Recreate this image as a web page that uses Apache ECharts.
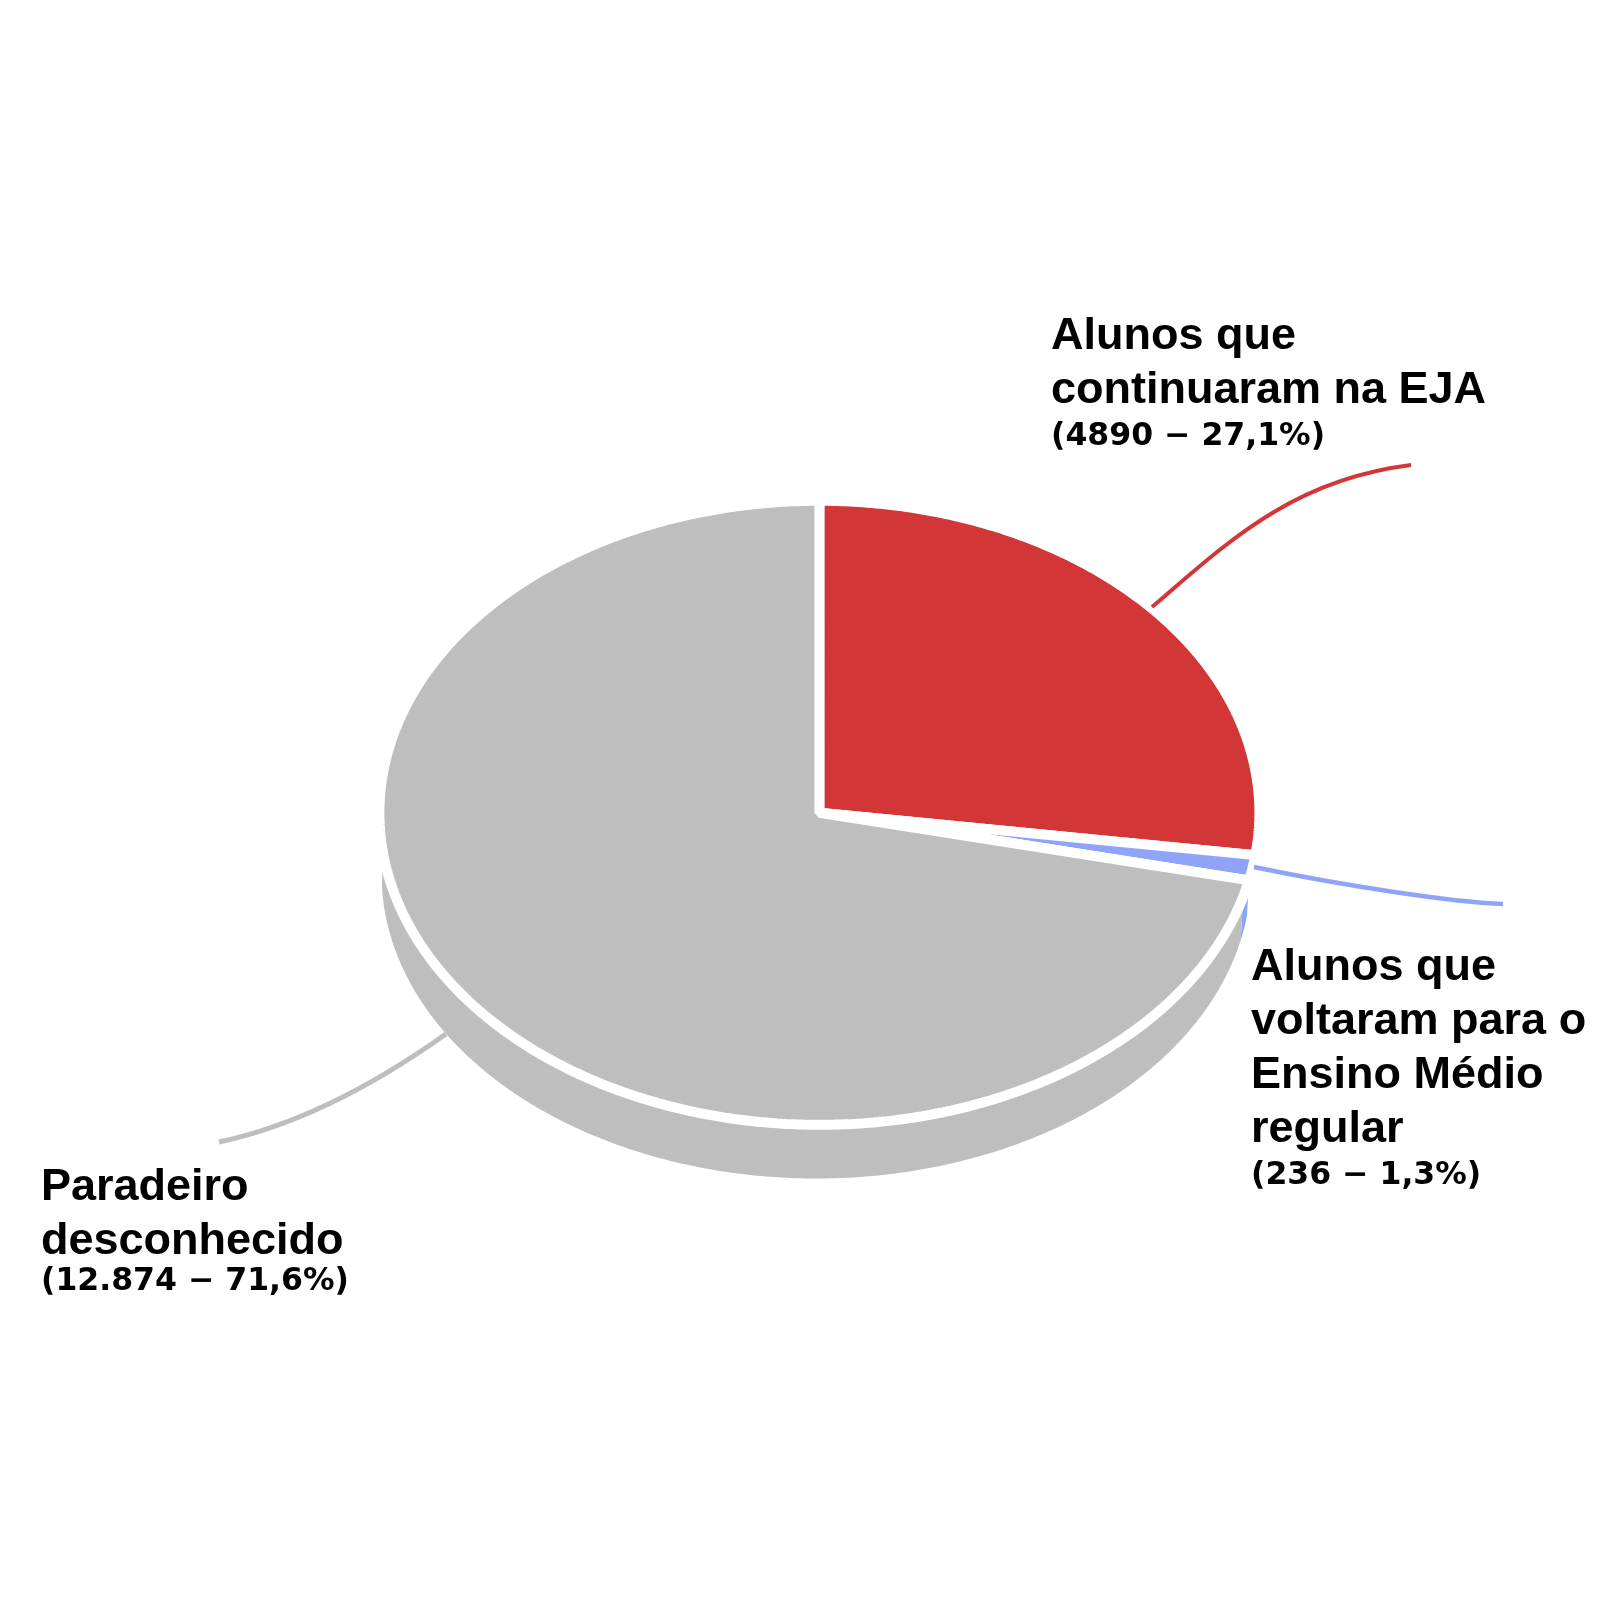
<!DOCTYPE html>
<html><head><meta charset="utf-8">
<style>html,body{margin:0;padding:0;background:#fff}#c{width:1600px;height:1600px}</style>
<script src="https://cdn.jsdelivr.net/npm/echarts@6/dist/echarts.min.js"></script>
</head><body><div id="c"></div>
<script>
// Data
const categories = ['Alunos que continuaram na EJA', 'Alunos que voltaram para o Ensino Médio regular', 'Paradeiro desconhecido'];
const values = [4890, 236, 12874];
const titleLines = [['Alunos que', 'continuaram na EJA'], ['Alunos que', 'voltaram para o', 'Ensino Médio', 'regular'], ['Paradeiro', 'desconhecido']];
const detailLabels = ['(4890 − 27,1%)', '(236 − 1,3%)', '(12.874 − 71,6%)'];

// Styles and layout
const colors = ['#d33636', '#8fa4f8', '#bebebe'];
const TOP = {cx: 819.4, cy: 812.8, rx: 440, ry: 312};
const LOW = {cx: 816.3, cy: 874.5, rx: 434.7, ry: 304};
const COVER = {cx: 819.4, cy: 820, rx: 441, ry: 307};
const showSide = [false, true, true];
const GREY_SIDE_END = 268;
const labelPos = [{x: 1051, y: 337}, {x: 1251, y: 968}, {x: 41, y: 1188}];
const detailGap = [46, 46, 40];
const LINE_H = 54;
const leaderWidth = [4, 4.5, 5];
const leaders = [
  {x1: 1152, y1: 607, cpx1: 1225, cpy1: 545, cpx2: 1290, cpy2: 480, x2: 1411, y2: 465},
  {x1: 1254, y1: 867, cpx1: 1340, cpy1: 885, cpx2: 1450, cpy2: 902, x2: 1503, y2: 904},
  {x1: 446, y1: 1034, cpx1: 370, cpy1: 1088, cpx2: 295, cpy2: 1126, x2: 219, y2: 1142}
];

const total = values.reduce((a, b) => a + b, 0);
const starts = [];
values.reduce((acc, v, i) => { starts[i] = acc; return acc + v; }, 0);
const rad = v => v / total * Math.PI * 2;
const pt = (e, t) => [e.cx + e.rx * Math.sin(t), e.cy - e.ry * Math.cos(t)];
function arc(e, a, b) {
  const n = Math.max(4, Math.ceil(Math.abs(b - a) / 0.01)), out = [];
  for (let i = 0; i <= n; i++) out.push(pt(e, a + (b - a) * i / n));
  return out;
}
const sliceRange = i => [rad(starts[i]), rad(starts[i] + values[i])];

const option = {
  backgroundColor: '#fff',
  animation: false,
  series: [
    { // extruded side of the pie
      type: 'custom', coordinateSystem: 'none', silent: true, z: 1,
      data: values.map(v => [v]),
      renderItem(params) {
        const i = params.dataIndex;
        if (!showSide[i]) return {type: 'group', children: []};
        let [a, b] = sliceRange(i);
        if (i === 2) b = GREY_SIDE_END / 180 * Math.PI;
        const pts = arc(LOW, a, b).concat(arc({...TOP, rx: TOP.rx - 5, ry: TOP.ry - 5}, b, a));
        return {type: 'polygon', shape: {points: pts}, style: {fill: colors[i], stroke: null}};
      }
    },
    { // white gap between the top and the side
      type: 'custom', coordinateSystem: 'none', silent: true, z: 2,
      data: [[total]],
      renderItem() {
        return {type: 'polygon', shape: {points: arc(COVER, 0, Math.PI * 2)}, style: {fill: '#fff', stroke: null}};
      }
    },
    { // top face, leaders and labels
      type: 'custom', coordinateSystem: 'none', silent: true, z: 3,
      data: values.map(v => [v]),
      renderItem(params) {
        const i = params.dataIndex;
        const [a, b] = sliceRange(i);
        const pts = [[TOP.cx, TOP.cy]].concat(arc(TOP, a, b));
        const lp = labelPos[i];
        const children = [
          {type: 'polygon', shape: {points: pts}, style: {fill: colors[i], stroke: '#fff', lineWidth: 10, lineJoin: 'bevel'}},
          {type: 'bezierCurve', shape: leaders[i], style: {fill: null, stroke: colors[i], lineWidth: leaderWidth[i]}}
        ];
        titleLines[i].forEach((t, k) => children.push({
          type: 'text',
          style: {text: t, x: lp.x, y: lp.y + k * LINE_H, fill: '#000', font: 'bold 45px "Liberation Sans"', verticalAlign: 'middle'}
        }));
        children.push({
          type: 'text',
          style: {text: detailLabels[i], x: lp.x, y: lp.y + (titleLines[i].length - 1) * LINE_H + detailGap[i], fill: '#000', font: 'bold 31.5px "DejaVu Sans"', verticalAlign: 'middle'}
        });
        return {type: 'group', children};
      }
    }
  ]
};
echarts.init(document.getElementById('c')).setOption(option);
</script></body></html>
